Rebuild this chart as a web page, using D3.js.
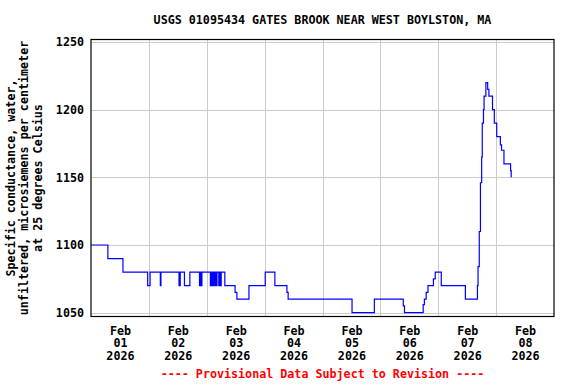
<!DOCTYPE html>
<html>
<head>
<meta charset="utf-8">
<script src="https://cdn.jsdelivr.net/npm/d3@7"></script>
<style>
  body { margin: 0; background: #fff; }
  text { font-family: "DejaVu Sans Mono", monospace; font-weight: bold; font-size: 11.7px; }
</style>
</head>
<body>
<div id="chart"></div>
<script>
const title = "USGS 01095434 GATES BROOK NEAR WEST BOYLSTON, MA";
const yTitle = ["Specific conductance, water,", "unfiltered, microsiemens per centimeter", "at 25 degrees Celsius"];
const footer = "---- Provisional Data Subject to Revision ----";

// step breakpoints (value holds until next time)
const obsTimes = [
  "2026-02-01 00:00", "2026-02-01 07:00", "2026-02-01 13:15", "2026-02-01 23:30",
  "2026-02-02 00:30", "2026-02-02 04:45", "2026-02-02 05:00", "2026-02-02 12:30",
  "2026-02-02 13:00", "2026-02-02 14:45", "2026-02-02 17:00", "2026-02-02 21:00",
  "2026-02-02 21:15", "2026-02-02 21:45", "2026-02-02 22:00", "2026-02-03 01:30",
  "2026-02-03 02:00", "2026-02-03 02:30", "2026-02-03 02:45", "2026-02-03 03:15",
  "2026-02-03 03:30", "2026-02-03 04:00", "2026-02-03 04:15", "2026-02-03 05:00",
  "2026-02-03 05:30", "2026-02-03 05:45", "2026-02-03 06:00", "2026-02-03 07:30",
  "2026-02-03 11:45", "2026-02-03 12:30", "2026-02-03 17:30", "2026-02-04 00:15",
  "2026-02-04 04:15", "2026-02-04 09:15", "2026-02-04 09:45", "2026-02-05 12:15",
  "2026-02-05 21:30", "2026-02-06 09:30", "2026-02-06 10:00", "2026-02-06 17:45",
  "2026-02-06 18:15", "2026-02-06 19:00", "2026-02-06 19:45", "2026-02-06 22:00",
  "2026-02-06 22:45", "2026-02-07 01:15", "2026-02-07 11:15", "2026-02-07 16:15",
  "2026-02-07 16:30", "2026-02-07 17:00", "2026-02-07 17:30", "2026-02-07 18:00",
  "2026-02-07 18:15", "2026-02-07 18:45", "2026-02-07 19:00", "2026-02-07 19:45",
  "2026-02-07 20:30", "2026-02-07 21:00", "2026-02-07 22:30", "2026-02-07 23:15",
  "2026-02-08 00:15", "2026-02-08 01:45", "2026-02-08 02:15", "2026-02-08 03:15",
  "2026-02-08 06:00", "2026-02-08 06:15"
];
const obsValues = [
  1100, 1090, 1080, 1070,
  1080, 1070, 1080, 1070,
  1080, 1070, 1080, 1070,
  1080, 1070, 1080, 1070,
  1080, 1070, 1080, 1070,
  1080, 1070, 1080, 1070,
  1080, 1070, 1080, 1070,
  1065, 1060, 1070, 1080,
  1070, 1065, 1060, 1050,
  1060, 1055, 1050, 1056,
  1060, 1065, 1070, 1075,
  1080, 1070, 1060, 1070,
  1084, 1110, 1146, 1165,
  1190, 1200, 1210, 1220,
  1215, 1210, 1200, 1190,
  1180, 1174, 1170, 1160,
  1155, 1150
];

const yTicks = [1050, 1100, 1150, 1200, 1250];
const dayLabels = ["2026-02-01", "2026-02-02", "2026-02-03", "2026-02-04",
                   "2026-02-05", "2026-02-06", "2026-02-07", "2026-02-08"];

const W = 576, H = 384;
const plot = { left: 91, right: 554, top: 39.5, bottom: 316.5 };

const parse = d3.timeParse("%Y-%m-%d %H:%M");
const parseDay = d3.timeParse("%Y-%m-%d");
const data = obsTimes.map((t, i) => ({ t: parse(t), v: obsValues[i] }));

const svg = d3.select("#chart").append("svg")
  .attr("width", W)
  .attr("height", H);

const x = d3.scaleTime()
  .domain([parseDay("2026-02-01"), parseDay("2026-02-09")])
  .range([plot.left, plot.right]);

const y = d3.scaleLinear()
  .domain([1047.2, 1251.8])
  .range([plot.bottom, plot.top]);

// gridlines at midnight
const midnights = dayLabels.slice(1).map(parseDay);
svg.append("g")
  .attr("transform", `translate(0,${plot.bottom})`)
  .call(d3.axisBottom(x).tickValues(midnights).tickSize(-(plot.bottom - plot.top)).tickFormat(""))
  .call(g => g.select(".domain").remove())
  .call(g => g.selectAll(".tick line").attr("stroke", "#cccccc").attr("shape-rendering", "crispEdges"));

svg.append("g")
  .attr("transform", `translate(${plot.left},0)`)
  .call(d3.axisLeft(y).tickValues(yTicks).tickSize(-(plot.right - plot.left)).tickPadding(7).tickFormat(d3.format("d")))
  .call(g => g.select(".domain").remove())
  .call(g => g.selectAll(".tick line").attr("stroke", "#cccccc").attr("shape-rendering", "crispEdges"))
  .call(g => g.selectAll(".tick text")
    .attr("fill", "#000")
    .style("font-family", "DejaVu Sans Mono")
    .style("font-size", "11.7px")
    .style("font-weight", "bold"));

// x labels at noon
const noons = dayLabels.map(d => d3.timeHour.offset(parseDay(d), 12));
const fmtDay = d3.timeFormat("%d");
svg.append("g")
  .attr("transform", `translate(0,${plot.bottom})`)
  .call(d3.axisBottom(x).tickValues(noons).tickSize(0).tickFormat(""))
  .call(g => g.select(".domain").remove())
  .call(g => g.selectAll(".tick").append("text")
    .attr("text-anchor", "middle")
    .attr("fill", "#000")
    .selectAll("tspan")
    .data(d => ["Feb", fmtDay(d), "2026"])
    .join("tspan")
    .attr("x", 0)
    .attr("y", (d, i) => 18 + i * 12.5)
    .text(d => d));

// data line
const line = d3.line()
  .x(d => x(d.t))
  .y(d => y(d.v))
  .curve(d3.curveStepAfter);

svg.append("path")
  .datum(data)
  .attr("fill", "none")
  .attr("stroke", "#0000ff")
  .attr("stroke-width", 1.2)
  .attr("d", line);

// frame
svg.append("rect")
  .attr("x", plot.left)
  .attr("y", plot.top)
  .attr("width", plot.right - plot.left)
  .attr("height", plot.bottom - plot.top)
  .attr("fill", "none")
  .attr("stroke", "#000")
  .attr("stroke-width", 1.2);

svg.append("text")
  .attr("x", (plot.left + plot.right) / 2)
  .attr("y", 24)
  .attr("text-anchor", "middle")
  .text(title);

svg.append("text")
  .attr("transform", `translate(0,${(plot.top + plot.bottom) / 2}) rotate(-90)`)
  .attr("text-anchor", "middle")
  .selectAll("tspan")
  .data(yTitle)
  .join("tspan")
  .attr("x", 0)
  .attr("y", (d, i) => 14.5 + i * 13.5)
  .text(d => d);

svg.append("text")
  .attr("x", (plot.left + plot.right) / 2)
  .attr("y", 378)
  .attr("text-anchor", "middle")
  .attr("fill", "#ff0000")
  .text(footer);
</script>
</body>
</html>
